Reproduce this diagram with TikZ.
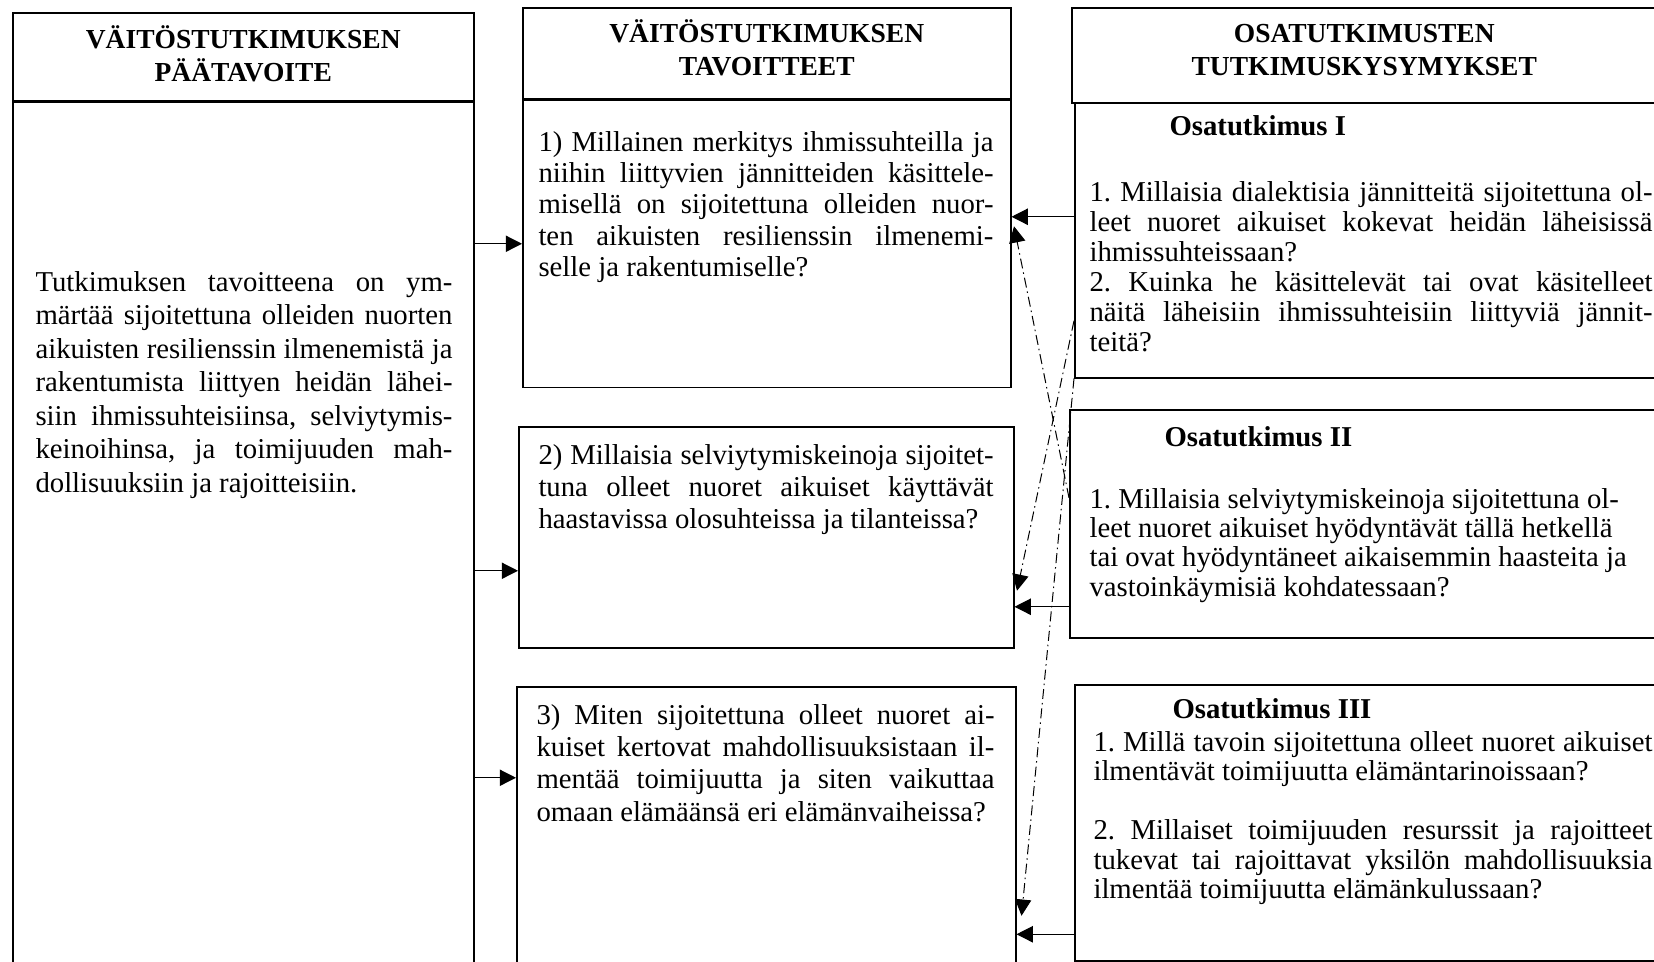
\documentclass[tikz,border=0pt]{standalone}
\usepackage{fontspec}
\setmainfont{Liberation Serif}
\usetikzlibrary{positioning, arrows.meta}
\frenchspacing
\tikzset{
  >={Triangle[length=6.5pt,width=6.5pt]},
  box/.style={draw, line width=0.6pt, anchor=north west, inner sep=0pt},
  headtext/.style={inner sep=0pt, align=center, font=\bfseries\fontsize{11}{13}\selectfont},
  para/.style={anchor=north west, inner sep=0pt, align=left, font=\fontsize{11.5}{12.8}\selectfont,
    execute at begin node={\spaceskip=0pt\xspaceskip=0pt}},
  subhead/.style={anchor=base west, inner sep=0pt, font=\bfseries\fontsize{11.5}{13}\selectfont},
  link/.style={->, line width=0.5pt},
  crosslink/.style={->, line width=0.4pt, dash pattern=on 4pt off 1.6pt on 0.6pt off 1.6pt},
}
% one justified line
\newcommand{\jl}[1]{\makebox[\hsize][s]{\spaceskip=0.25em plus 1em minus 0.08em\relax#1}\\}

\begin{document}
\begin{tikzpicture}[x=0.4pt, y=-0.4pt]
\useasboundingbox (0,0) rectangle (1654,961);

% main aim
\node[box, minimum width=184.4pt, minimum height=35.2pt] (L0) at (12,12) {};
\node[box, minimum width=184.4pt, minimum height=350pt, below=0pt of L0] (L1) {};
\node[headtext] (hL0) at ([yshift=1.2pt]L0.center) {VÄITÖSTUTKIMUKSEN\\PÄÄTAVOITE};
\node[para, text width=166.8pt, font=\fontsize{11.5}{13.4}\selectfont] (tL) at (35,271) {%
\jl{Tutkimuksen tavoitteena on ym-}
\jl{märtää sijoitettuna olleiden nuorten}
\jl{aikuisten resilienssin ilmenemistä ja}
\jl{rakentumista liittyen heidän lähei-}
\jl{siin ihmissuhteisiinsa, selviytymis-}
\jl{keinoihinsa, ja toimijuuden mah-}
dollisuuksiin ja rajoitteisiin.};

% aims of the thesis
\node[box, minimum width=195.2pt, minimum height=36.4pt] (M0) at (522,7) {};
\node[box, minimum width=195.2pt, minimum height=114.8pt, below=0pt of M0] (M1) {};
\node[box, minimum width=198pt, minimum height=88.4pt] (M2) at (518,426) {};
\node[box, minimum width=199.6pt, minimum height=116pt] (M3) at (516,686) {};
\node[headtext] (hM0) at ([yshift=2.2pt]M0.center) {VÄITÖSTUTKIMUKSEN\\TAVOITTEET};
\node[para, text width=182pt, font=\fontsize{11.5}{12.5}\selectfont] (tM1) at (538,131) {%
\jl{1) Millainen merkitys ihmissuhteilla ja}
\jl{niihin liittyvien jännitteiden käsittele-}
\jl{misellä on sijoitettuna olleiden nuor-}
\jl{ten aikuisten resilienssin ilmenemi-}
selle ja rakentumiselle?};
\node[para, text width=182pt] (tM2) at (538,444) {%
\jl{2) Millaisia selviytymiskeinoja sijoitet-}
\jl{tuna olleet nuoret aikuiset käyttävät}
haastavissa olosuhteissa ja tilanteissa?};
\node[para, text width=183.2pt, font=\fontsize{11.5}{12.9}\selectfont] (tM3) at (536,704) {%
\jl{3) Miten sijoitettuna olleet nuoret ai-}
\jl{kuiset kertovat mahdollisuuksistaan il-}
\jl{mentää toimijuutta ja siten vaikuttaa}
omaan elämäänsä eri elämänvaiheissa?};

% research questions of the sub-studies
\node[box, minimum width=236pt, minimum height=38pt] (R0) at (1071,7) {};
\node[box, minimum width=236pt, minimum height=110pt] (R1) at (1074,102) {};
\node[box, minimum width=236pt, minimum height=91.2pt] (R2) at (1069,409) {};
\node[box, minimum width=236pt, minimum height=110.4pt] (R3) at (1074,684) {};
\node[headtext] (hR0) at ([xshift=-1pt,yshift=2pt]R0.center) {OSATUTKIMUSTEN\\TUTKIMUSKYSYMYKSET};
\node[subhead] (hR1) at (1169,135) {Osatutkimus I};
\node[subhead] (hR2) at (1164,446) {Osatutkimus II};
\node[subhead] (hR3) at (1172,718) {Osatutkimus III};
\node[para, text width=225.2pt, font=\fontsize{11.5}{12}\selectfont] (tR1) at (1089,181) {%
\jl{1. Millaisia dialektisia jännitteitä sijoitettuna ol-}
\jl{leet nuoret aikuiset kokevat heidän läheisissä}
ihmissuhteissaan?\\
\jl{2. Kuinka he käsittelevät tai ovat käsitelleet}
\jl{näitä läheisiin ihmissuhteisiin liittyviä jännit-}
teitä?};
\node[para, text width=236pt, font=\fontsize{11.5}{11.7}\selectfont] (tR2) at (1089,488) {%
1. Millaisia selviytymiskeinoja sijoitettuna ol-\\
leet nuoret aikuiset hyödyntävät tällä hetkellä\\
tai ovat hyödyntäneet aikaisemmin haasteita ja\\
vastoinkäymisiä kohdatessaan?};
\node[para, text width=223.6pt, font=\fontsize{11.5}{11.8}\selectfont] (tR3) at (1093,731) {%
\jl{1. Millä tavoin sijoitettuna olleet nuoret aikuiset}
ilmentävät toimijuutta elämäntarinoissaan?\\[11.8pt]
\jl{2. Millaiset toimijuuden resurssit ja rajoitteet}
\jl{tukevat tai rajoittavat yksilön mahdollisuuksia}
ilmentää toimijuutta elämänkulussaan?};

% Arrows from the main aim
\coordinate (in2) at ([yshift=-13.4pt]M2.west);
\coordinate (in3) at ([yshift=21.6pt]M3.west);
\draw[link] (L1.east |- M1.west) -- (M1.west);
\draw[link] (L1.east |- in2) -- (in2);
\draw[link] (L1.east |- in3) -- (in3);

% Arrows from the sub-studies
\coordinate (outA) at ([yshift=9.4pt]R1.west);
\coordinate (outB) at ([yshift=-33.2pt]R2.west);
\coordinate (outC) at ([yshift=-44.6pt]R3.west);
\draw[link] (outA) -- (M1.east |- outA);
\draw[link] (outB) -- (M2.east |- outB);
\draw[link] (outC) -- (M3.east |- outC);

% Cross links
\draw[crosslink] ([yshift=10.4pt]R2.west) -- ([xshift=1pt,yshift=7pt]M1.east);
\draw[crosslink] ([yshift=-32.2pt]R1.west) -- ([xshift=1pt,yshift=-21.4pt]M2.east);
\draw[crosslink] (R1.south west) -- ([xshift=2pt,yshift=-33.6pt]M3.east);
\end{tikzpicture}
\end{document}
